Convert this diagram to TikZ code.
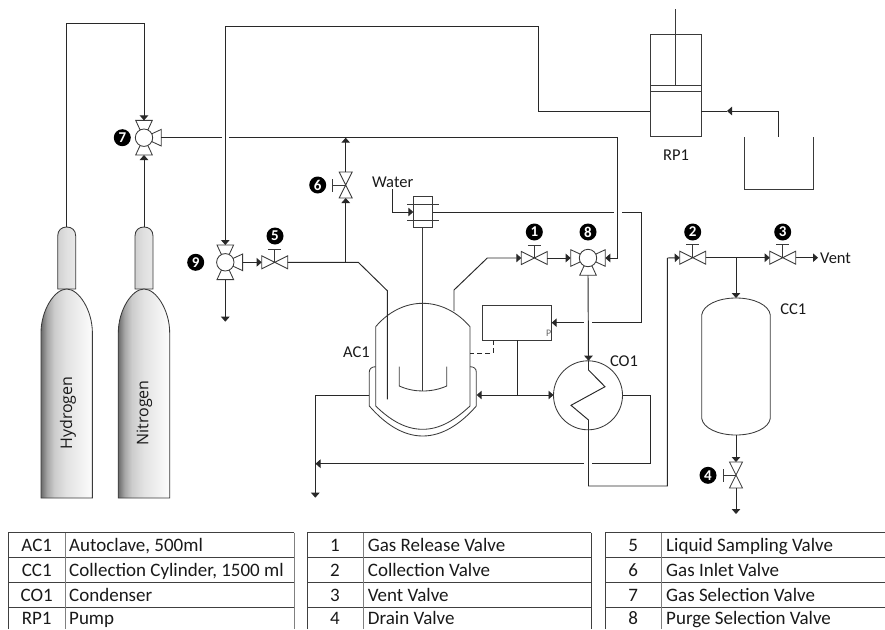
\documentclass[tikz,border=0pt]{standalone}
\usepackage{fontspec}
\setmainfont{Carlito}
\newfontfamily\cylfont{Open Sans}
\usetikzlibrary{arrows.meta}
\definecolor{ln}{HTML}{282828}
\definecolor{shp}{HTML}{3A3A3A}
\pgfdeclarehorizontalshading{cylbody}{100bp}{color(0bp)=(black!58);color(25bp)=(black!58);color(31bp)=(black!35);color(38bp)=(black!20);color(50bp)=(black!11);color(75bp)=(black!1);color(100bp)=(black!1)}
\pgfdeclarehorizontalshading{cylneck}{100bp}{color(0bp)=(black!18);color(25bp)=(black!18);color(50bp)=(black!12);color(75bp)=(black!9);color(100bp)=(black!9)}
\tikzset{
  pipe/.style={draw=ln,line width=0.95pt},
  tip/.style={-{Triangle[length=5pt,width=8.5pt]}},
  shape line/.style={draw=shp,line width=0.85pt},
  bubble/.style={circle,fill=black,inner sep=0pt,minimum size=17pt,text=white,font=\fontsize{15}{15}\selectfont\bfseries},
  lbl/.style={font=\fontsize{16.5}{16.5}\selectfont,text=black!90,inner sep=0pt},
  gastext/.style={font=\cylfont\fontsize{16}{16}\selectfont,text=black!90,rotate=90,inner sep=0pt},
  tabline/.style={draw=black!75,line width=0.9pt},
  tabsep/.style={draw=black!50,line width=1pt},
  cell/.style={font=\fontsize{19}{19}\selectfont,text=black!90,anchor=base,inner sep=0pt},
  celltext/.style={font=\fontsize{19}{19}\selectfont,text=black!90,anchor=base west,inner sep=0pt},
}
% gate valve: name, x, y, rotation
\newcommand{\gatevalve}[4]{%
  \coordinate (#1) at (#2,#3);
  \begin{scope}[shift={(#1)},rotate=#4]
    \draw[shape line,fill=white] (-13,-6.5) -- (13,6.5) -- (13,-6.5) -- (-13,6.5) -- cycle;
    \draw[shape line] (0,0) -- (0,-13) (-6.5,-13) -- (6.5,-13);
    \coordinate (#1-a) at (-13,0);
    \coordinate (#1-b) at (13,0);
  \end{scope}}
% ball valve: name, x, y, arm angles
\newcommand{\ballvalve}[4]{%
  \coordinate (#1) at (#2,#3);
  \foreach \ang in {#4}{
    \begin{scope}[shift={(#1)},rotate=\ang]
      \draw[shape line,fill=white] (8,-4) -- (17.3,-8.3) -- (17.3,8.3) -- (8,4) -- cycle;
    \end{scope}}
  \draw[shape line,fill=white] (#1) circle[radius=8.7];
  \coordinate (#1-r) at (#2+17.3,#3);
  \coordinate (#1-l) at (#2-17.3,#3);
  \coordinate (#1-t) at (#2,#3-17.3);
  \coordinate (#1-b) at (#2,#3+17.3);}
\begin{document}
\begin{tikzpicture}[x=1pt,y=-1pt]
\useasboundingbox (0,0) rectangle (885,629);

% ---- cylinders
\newcommand{\gascyl}[2]{%
  \path[shading=cylneck] (#1-9,289) -- (#1-9,236) .. controls (#1-9,230) and (#1-5,227) .. (#1,227) .. controls (#1+5,227) and (#1+9,230) .. (#1+9,236) -- (#1+9,289) -- cycle;
  \draw[shape line] (#1-9,289) -- (#1-9,236) .. controls (#1-9,230) and (#1-5,227) .. (#1,227) .. controls (#1+5,227) and (#1+9,230) .. (#1+9,236) -- (#1+9,289) -- cycle;
  \path[shading=cylbody] (#1-25.7,498) -- (#1-25.7,333) .. controls (#1-25.7,310) and (#1-12,289) .. (#1,289) .. controls (#1+12,289) and (#1+25.7,310) .. (#1+25.7,333) -- (#1+25.7,498) -- cycle;
  \draw[shape line] (#1-25.7,498) -- (#1-25.7,333) .. controls (#1-25.7,310) and (#1-12,289) .. (#1,289) .. controls (#1+12,289) and (#1+25.7,310) .. (#1+25.7,333) -- (#1+25.7,498) -- cycle;
  \coordinate (#2) at (#1,227);}
\gascyl{66.7}{hcyl}
\gascyl{144}{ncyl}
\node[gastext] (hlabel) at (68,413) {Hydrogen};
\node[gastext] (nlabel) at (144.3,413) {Nitrogen};

% ---- valves
\ballvalve{vseven}{144}{137.7}{90,0,270}
\ballvalve{veight}{588}{258}{180,0,270}
\ballvalve{vnine}{225.3}{262.3}{90,0,270}
\gatevalve{vfive}{274.7}{262.3}{0}
\gatevalve{vsix}{345.7}{185}{90}
\gatevalve{vone}{534.3}{258}{0}
\gatevalve{vtwo}{692.7}{257.7}{0}
\gatevalve{vthree}{782.7}{257.7}{0}
\gatevalve{vfour}{736}{475}{90}

% ---- bubbles
\node[bubble] (b1) at (534.3,232) {1};
\node[bubble] (b2) at (692.7,232) {2};
\node[bubble] (b3) at (782.7,232) {3};
\node[bubble] (b4) at (708,475.3) {4};
\node[bubble] (b5) at (275,236) {5};
\node[bubble] (b6) at (317.7,185) {6};
\node[bubble] (b7) at (122.3,137.7) {7};
\node[bubble] (b8) at (588,232) {8};
\node[bubble] (b9) at (195.7,262.3) {9};

% ---- pump and reservoir
\node[shape line,draw,minimum width=51.3pt,minimum height=101.6pt,inner sep=0pt] (pump) at (675.7,85.5) {};
\draw[shape line] (650,85.7) -- (701.3,85.7) (650,91) -- (701.3,91);
\coordinate (rodtop) at (675.7,9);
\coordinate (rodbot) at (675.7,85.7);
\draw[shape line] (rodtop) -- (rodbot);
\draw[shape line] (744.3,137.3) -- (744.3,189.3) -- (813,189.3) -- (813,137.3);
\node[lbl] (rplabel) at (676,155) {RP1};

% ---- autoclave
\draw[shape line] (375.7,406) -- (375.7,326.7) .. controls (388,312) and (405,303.3) .. (422.7,303.3) .. controls (440.4,303.3) and (457.4,312) .. (470,326.7) -- (470,406) .. controls (455,420) and (440,429.3) .. (422.7,429.3) .. controls (405.4,429.3) and (390,420) .. (375.7,406);
\draw[shape line] (375.7,366.7) .. controls (372,366.7) and (369.3,368.5) .. (369.3,372) -- (369.3,406) .. controls (385,424) and (403,436) .. (422.7,436) .. controls (442.4,436) and (460.6,424) .. (476.3,406) -- (476.3,372) .. controls (476.3,368.5) and (473.7,366.7) .. (470,366.7);
\draw[shape line] (399.3,366.7) -- (399.3,386) .. controls (407,389.5) and (415,391) .. (422.7,391) .. controls (430.4,391) and (439,389.5) .. (446.7,386) -- (446.7,366.7);
\node[shape line,draw,minimum width=19.4pt,minimum height=31.4pt,inner sep=0pt] (motor) at (423,212) {};
\draw[shape line] (407.3,204.3) -- (439,204.3) (407.3,220) -- (439,220);
\coordinate (shaftend) at (422.7,391);
\draw[shape line] (motor.south) ++(-0.3,0) -- (shaftend);
\node[lbl] (aclabel) at (356.5,352) {AC1};
\node[lbl] (water) at (392.7,182.5) {Water};

% ---- controller box
\node[shape line,draw,minimum width=69pt,minimum height=34.3pt,inner sep=0pt] (box) at (517.2,322.8) {};
\node[font=\fontsize{10}{10}\selectfont,text=black!60,inner sep=0pt] (plabel) at (548.7,333) {P};

% ---- condenser
\node[shape line,draw,circle,minimum size=69pt,inner sep=0pt] (cond) at (588,395.3) {};
\node[lbl] (colabel) at (624,361) {CO1};

% ---- collection cylinder
\draw[shape line] (701.7,418.3) -- (701.7,315) .. controls (703,305) and (718,298) .. (736,298) .. controls (754,298) and (769,305) .. (770.3,315) -- (770.3,418.3) .. controls (769,428) and (754,435) .. (736,435) .. controls (718,435) and (703,428) .. (701.7,418.3);
\coordinate (cctop) at (736,298);
\coordinate (ccbot) at (736,435);
\node[lbl] (cclabel) at (793.3,309.3) {CC1};
\node[lbl,anchor=west] (ventlabel) at (820,258) {Vent};

% ---- pipe junctions and corners
\coordinate (ha) at (66.7,23);
\coordinate (hb) at (144,23);
\coordinate (pa) at (650,111);
\coordinate (pb) at (538.5,111);
\coordinate (pc) at (538.5,26.5);
\coordinate (pd) at (225.3,26.5);
\coordinate (qa) at (701.3,111);
\coordinate (qb) at (727,111);
\coordinate (qc) at (778.7,111);
\coordinate (qd) at (778.7,137.3);
\coordinate (ventdown) at (225.3,321.7);
\coordinate (gx1) at (222,137.7);
\coordinate (gx2) at (229.3,137.7);
\coordinate (tsix) at (345.7,137.7);
\coordinate (ga) at (617.7,137.7);
\coordinate (gb) at (617.7,258);
\coordinate (lj) at (345.7,262.3);
\coordinate (lb) at (358.3,262.3);
\coordinate (lc) at (387.3,290.7);
\coordinate (ld) at (387.3,399.3);
\coordinate (ra) at (454,311);
\coordinate (rb) at (454,290);
\coordinate (rc) at (487.3,258);
\coordinate (wa) at (392.3,189);
\coordinate (wb) at (392.3,212);
\coordinate (wc) at (413.3,212);
\coordinate (ca) at (432.7,212);
\coordinate (cb) at (614,212);
\coordinate (cc) at (622,212);
\coordinate (cd) at (641.7,212);
\coordinate (ce) at (641.7,322.7);
\coordinate (cf) at (592,322.7);
\coordinate (cg) at (583.7,322.7);
\coordinate (ch) at (551.7,322.7);
\coordinate (coila) at (588.5,360.7);
\coordinate (coilb) at (588.5,370);
\coordinate (coilc) at (605,386.7);
\coordinate (coild) at (571,405.3);
\coordinate (coile) at (588.5,420);
\coordinate (coilf) at (588.5,486);
\coordinate (coilg) at (667.3,486);
\coordinate (coilh) at (667.3,258);
\coordinate (ta) at (517,340);
\coordinate (tb) at (517,395);
\coordinate (tl) at (476.7,395);
\coordinate (tr) at (553.5,395);
\coordinate (da) at (493,340);
\coordinate (db) at (493,353);
\coordinate (dc) at (470,353);
\coordinate (ea) at (622.5,395);
\coordinate (eb) at (650.3,395);
\coordinate (ec) at (650.3,463.7);
\coordinate (ed) at (592,463.7);
\coordinate (ee) at (583.7,463.7);
\coordinate (ef) at (315.5,463.7);
\coordinate (ja) at (369.3,395);
\coordinate (jb) at (315.3,395);
\coordinate (jc) at (315.3,497.7);
\coordinate (vj) at (736,257.7);
\coordinate (vout) at (818,257.7);
\coordinate (fourout) at (736,514);

% ---- pipes
\draw[pipe,tip] (hcyl) -- (ha) -- (hb) -- (vseven-t);
\draw[pipe,tip] (ncyl) -- (vseven-b);
\draw[pipe] (pa) -- (pb) -- (pc) -- (pd);
\draw[pipe,tip] (pd) -- (vnine-t);
\draw[pipe] (qc) -- (qd);
\draw[pipe,tip] (qc) -- (qb);
\draw[pipe] (qb) -- (qa);
\draw[pipe,tip] (vnine-b) -- (ventdown);
\draw[pipe,tip] (vnine-r) -- (vfive-a);
\draw[pipe] (vseven-r) -- (gx1);
\draw[pipe] (gx2) -- (tsix);
\draw[pipe] (tsix) -- (ga);
\draw[pipe,tip] (ga) -- (gb) -- (veight-r);
\draw[pipe,tip] (vsix-b) -- (tsix);
\draw[pipe,tip] (lj) -- (vsix-a);
\draw[pipe] (vfive-b) -- (lj) -- (lb) -- (lc) -- (ld);
\draw[pipe,tip] (ra) -- (rb) -- (rc) -- (vone-a);
\draw[pipe,tip] (vone-b) -- (veight-l);
\draw[pipe,tip] (wa) -- (wb) -- (wc);
\draw[pipe] (ca) -- (cb);
\draw[pipe] (cc) -- (cd) -- (ce) -- (cf);
\draw[pipe,tip] (cg) -- (ch);
\draw[pipe,tip] (veight-b) -- (coila);
\draw[pipe] (coila) -- (coilb) -- (coilc) -- (coild) -- (coile) -- (coilf) -- (coilg) -- (coilh);
\draw[pipe,tip] (coilh) -- (vtwo-a);
\draw[pipe] (ta) -- (tb);
\draw[pipe,tip] (tb) -- (tl);
\draw[pipe,tip] (tb) -- (tr);
\draw[pipe,dash pattern=on 5pt off 3pt] (da) -- (db) -- (dc);
\draw[pipe] (ea) -- (eb) -- (ec) -- (ed);
\draw[pipe,tip] (ee) -- (ef);
\draw[pipe] (ja) -- (jb);
\draw[pipe,tip] (jb) -- (jc);
\draw[pipe,tip] (vtwo-b) -- (vthree-a);
\draw[pipe,tip] (vthree-b) -- (vout);
\draw[pipe,tip] (vj) -- (cctop);
\draw[pipe,tip] (ccbot) -- (vfour-b);
\draw[pipe,tip] (vfour-a) -- (fourout);

% ---- tables
\newcommand{\legend}[4]{% left, sep, right, closed-right flag
  \draw[tabline] (#1,629) -- (#1,532.7) -- (#3,532.7);
  \draw[tabline] (#1,557.7) -- (#3,557.7) (#1,582.3) -- (#3,582.3) (#1,607.3) -- (#3,607.3);
  \draw[tabsep] (#2,532.7) -- (#2,629);
  #4}
\legend{8.3}{65}{294}{\draw[tabsep] (294,532.7) -- (294,629);}
\legend{307.7}{363.7}{591.3}{\draw[tabline] (591.3,532.7) -- (591.3,629);}
\legend{605.3}{661.7}{885}{}

\newcommand{\trow}[5]{% cx, tx, baseline, key, text
  \node[cell] at (#1,#3) {#4};
  \node[celltext] at (#2,#3) {#5};}
\trow{36.7}{69}{551.7}{AC1}{Autoclave, 500ml}
\trow{36.7}{69}{576.6}{CC1}{Collection Cylinder, 1500 ml}
\trow{36.7}{69}{601.5}{CO1}{Condenser}
\trow{36.7}{69}{624.6}{RP1}{Pump}
\trow{335}{367.7}{551.7}{1}{Gas Release Valve}
\trow{335}{367.7}{576.6}{2}{Collection Valve}
\trow{335}{367.7}{601.5}{3}{Vent Valve}
\trow{335}{367.7}{624.6}{4}{Drain Valve}
\trow{633.3}{666}{551.7}{5}{Liquid Sampling Valve}
\trow{633.3}{666}{576.6}{6}{Gas Inlet Valve}
\trow{633.3}{666}{601.5}{7}{Gas Selection Valve}
\trow{633.3}{666}{624.6}{8}{Purge Selection Valve}
\end{tikzpicture}
\end{document}
